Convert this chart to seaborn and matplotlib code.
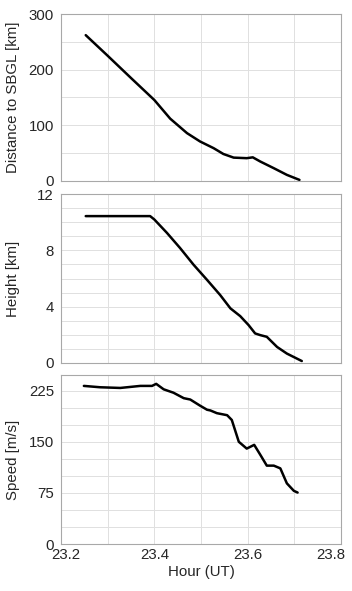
import matplotlib
matplotlib.use("Agg")
import matplotlib.pyplot as plt
from matplotlib.ticker import MultipleLocator
from matplotlib.transforms import ScaledTranslation
import seaborn as sns
import pandas as pd

# distance to SBGL [km]
dist_hour = [23.253, 23.30, 23.35, 23.40, 23.434, 23.470, 23.498, 23.527, 23.548,
             23.570, 23.598, 23.611, 23.627, 23.656, 23.684, 23.711]
dist_km = [262, 225, 185, 145.5, 112, 86, 71, 59, 48.5, 42, 41, 42.5, 35, 23, 11, 2]

# height [km]
height_hour = [23.253, 23.391, 23.40, 23.427, 23.455, 23.484, 23.513, 23.541, 23.563,
               23.584, 23.602, 23.616, 23.627, 23.641, 23.663, 23.684, 23.716]
height_km = [10.43, 10.43, 10.19, 9.24, 8.17, 6.98, 5.9, 4.83, 3.88,
             3.33, 2.69, 2.1, 1.98, 1.86, 1.14, 0.67, 0.14]

# speed [m/s]
speed_hour = [23.249, 23.284, 23.327, 23.370, 23.395, 23.404, 23.420, 23.441, 23.463,
              23.477, 23.498, 23.513, 23.520, 23.534, 23.556, 23.566, 23.581, 23.598,
              23.614, 23.627, 23.641, 23.656, 23.670, 23.684, 23.699, 23.707]
speed_ms = [232, 230, 229, 232, 232, 235, 227, 222, 214,
            212, 203, 197, 196, 192, 189, 182, 150, 140,
            145.5, 131, 115, 115, 111, 89, 78, 75.5]

hour_ticks = [23.2, 23.4, 23.6, 23.8]

sns.set_style("white")
plt.rcParams['font.family'] = ['Liberation Sans', 'DejaVu Sans']
fs = 10.8

fig = plt.figure(figsize=(3.52, 5.91), dpi=100)
left, width, h = 61 / 352, 280 / 352, 169 / 591
ax1 = fig.add_axes([left, 1 - 181 / 591, width, 167 / 591])
ax2 = fig.add_axes([left, 1 - 363 / 591, width, h])
ax3 = fig.add_axes([left, 1 - 544 / 591, width, h])

panels = [
    (ax1, dist_hour, dist_km, "Distance to SBGL [km]", (0, 300), 100, 50),
    (ax2, height_hour, height_km, "Height [km]", (0, 12), 4, 1),
    (ax3, speed_hour, speed_ms, "Speed [m/s]", (0, 248), 75, 25),
]

for ax, xs, ys, label, ylim, major, minor in panels:
    df = pd.DataFrame({"hour": xs, "val": ys})
    sns.lineplot(data=df, x="hour", y="val", ax=ax, color="black", linewidth=1.8)
    ax.set_xlim(23.2, 23.8)
    ax.set_ylim(*ylim)
    ax.set_xticks(hour_ticks)
    ax.xaxis.set_minor_locator(MultipleLocator(0.1))
    ax.yaxis.set_major_locator(MultipleLocator(major))
    ax.yaxis.set_minor_locator(MultipleLocator(minor))
    ax.grid(True, which="both", color="#e0e0e0", linewidth=0.7)
    ax.set_axisbelow(True)
    for s in ax.spines.values():
        s.set_color("#a8a8a8")
        s.set_linewidth(0.8)
    ax.tick_params(which="both", direction="in", length=2, color="#a8a8a8",
                   labelsize=fs, pad=5)
    ax.set_ylabel(label, fontsize=fs)
    ax.yaxis.set_label_coords(-0.145, 0.5)
    ax.set_xlabel("")

ax1.set_xticklabels([])
ax2.set_xticklabels([])
ax3.set_xticklabels([f"{t:.1f}" for t in hour_ticks])
ax3.tick_params(axis="x", pad=3)
ax3.set_xlabel("Hour (UT)", fontsize=fs, labelpad=2)

xlabels = ax3.get_xticklabels()
xlabels[0].set_transform(xlabels[0].get_transform() + ScaledTranslation(5 / 100, 0, fig.dpi_scale_trans))
xlabels[-1].set_transform(xlabels[-1].get_transform() + ScaledTranslation(-10 / 100, 0, fig.dpi_scale_trans))

fig.savefig("out.png", dpi=100, facecolor="white")
